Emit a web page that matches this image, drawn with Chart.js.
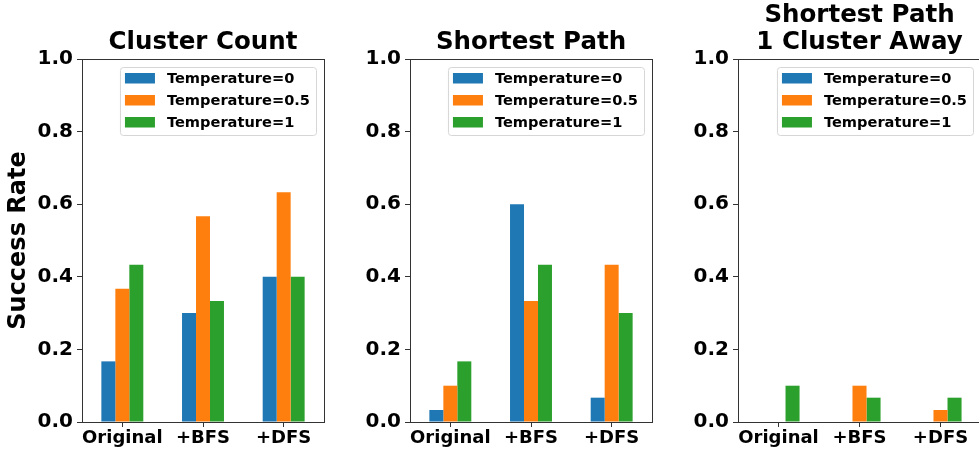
<!DOCTYPE html>
<html>
<head>
<meta charset="utf-8">
<script src="https://cdn.jsdelivr.net/npm/chart.js@4.4.1/dist/chart.umd.min.js"></script>
<style>
html, body { margin: 0; padding: 0; background: #fff; width: 979px; height: 450px; overflow: hidden; }
.panel { position: absolute; top: 0; height: 450px; }
</style>
</head>
<body>
<div class="panel" style="left:0px"><canvas id="c1" width="330" height="450"></canvas></div>
<div class="panel" style="left:330px"><canvas id="c2" width="330" height="450"></canvas></div>
<div class="panel" style="left:660px"><canvas id="c3" width="326" height="450"></canvas></div>
<script>
// data
const categories = ['Original', '+BFS', '+DFS'];
const seriesLabels = ['Temperature=0', 'Temperature=0.5', 'Temperature=1'];
const seriesColors = ['#1f77b4', '#ff7f0e', '#2ca02c'];
const yTicks = [0, 0.2, 0.4, 0.6, 0.8, 1.0];

const clusterT0 = [0.167, 0.3, 0.4];
const clusterT05 = [0.367, 0.567, 0.633];
const clusterT1 = [0.433, 0.333, 0.4];

const pathT0 = [0.033, 0.6, 0.067];
const pathT05 = [0.1, 0.333, 0.433];
const pathT1 = [0.167, 0.433, 0.3];

const awayT0 = [0, 0, 0];
const awayT05 = [0, 0.1, 0.033];
const awayT1 = [0.1, 0.067, 0.067];

const FONT = "'DejaVu Sans', sans-serif";
const AXIS_COLOR = '#333';

// box round the plot + legend inside the top right corner
const framePlugin = {
  id: 'frame',
  afterDraw(chart) {
    const ctx = chart.ctx;
    const a = chart.chartArea;
    ctx.save();
    ctx.strokeStyle = AXIS_COLOR;
    ctx.lineWidth = 1;
    ctx.strokeRect(a.left + 0.5, a.top + 0.5, a.right - a.left, a.bottom - a.top);

    ctx.font = 'bold 14.6px ' + FONT;
    let maxW = 0;
    chart.data.datasets.forEach(ds => { maxW = Math.max(maxW, ctx.measureText(ds.label).width); });
    const bw = maxW + 53, bh = 68;
    const bx = a.right - 8 - bw, by = a.top + 8;
    ctx.fillStyle = 'rgba(255,255,255,0.8)';
    ctx.strokeStyle = '#d6d6d6';
    ctx.beginPath();
    ctx.roundRect(bx + 0.5, by + 0.5, bw, bh, 3);
    ctx.fill();
    ctx.stroke();
    ctx.textBaseline = 'middle';
    ctx.textAlign = 'left';
    chart.data.datasets.forEach((ds, i) => {
      const cy = by + 11 + i * 22;
      ctx.fillStyle = ds.backgroundColor;
      ctx.fillRect(bx + 5, cy - 5, 30, 10.5);
      ctx.fillStyle = '#000';
      ctx.fillText(ds.label, bx + 47, cy + 1);
    });
    ctx.restore();
  }
};

function makeChart(id, title, series, yWidth, rightPad, showYTitle) {
  const twoLines = Array.isArray(title);
  return new Chart(document.getElementById(id), {
    type: 'bar',
    data: {
      labels: categories,
      datasets: series.map((vals, i) => ({
        label: seriesLabels[i],
        data: vals,
        backgroundColor: seriesColors[i],
        categoryPercentage: 0.52,
        barPercentage: 1.0
      }))
    },
    options: {
      responsive: false,
      animation: false,
      layout: { padding: { left: 0, right: rightPad, top: 0, bottom: 0 } },
      plugins: {
        legend: { display: false },
        tooltip: { enabled: false },
        title: {
          display: true,
          fullSize: false,
          text: title,
          color: '#000',
          font: { family: FONT, weight: 'bold', size: 24.5, lineHeight: twoLines ? 1.1 : 1.2 },
          padding: twoLines ? { top: 2.5, bottom: 2.6 } : { top: 28.3, bottom: 1.3 }
        }
      },
      scales: {
        x: {
          offset: true,
          grid: { display: true, drawOnChartArea: false, drawTicks: true, tickLength: 5, tickColor: AXIS_COLOR, offset: false },
          border: { display: true, color: AXIS_COLOR },
          ticks: {
            color: '#000', padding: 1, autoSkip: false, maxRotation: 0, minRotation: 0,
            font: { family: FONT, weight: 'bold', size: 18 }
          },
          afterFit(scale) { scale.height = 28; }
        },
        y: {
          min: 0,
          max: 1,
          afterBuildTicks(scale) { scale.ticks = yTicks.map(v => ({ value: v })); },
          grid: { display: true, drawOnChartArea: false, drawTicks: true, tickLength: 5, tickColor: AXIS_COLOR },
          border: { display: true, color: AXIS_COLOR },
          ticks: {
            color: '#000', padding: 4,
            font: { family: FONT, weight: 'bold', size: 20 },
            callback: v => Number(v).toFixed(1)
          },
          title: {
            display: showYTitle,
            text: 'Success Rate',
            color: '#000',
            font: { family: FONT, weight: 'bold', size: 24 },
            padding: { top: 4, bottom: 0 }
          },
          afterFit(scale) { scale.width = yWidth; }
        }
      }
    },
    plugins: [framePlugin]
  });
}

makeChart('c1', 'Cluster Count', [clusterT0, clusterT05, clusterT1], 82, 6, true);
makeChart('c2', 'Shortest Path', [pathT0, pathT05, pathT1], 80, 8, false);
makeChart('c3', ['Shortest Path', '1 Cluster Away'], [awayT0, awayT05, awayT1], 78, 5, false);
</script>
</body>
</html>
